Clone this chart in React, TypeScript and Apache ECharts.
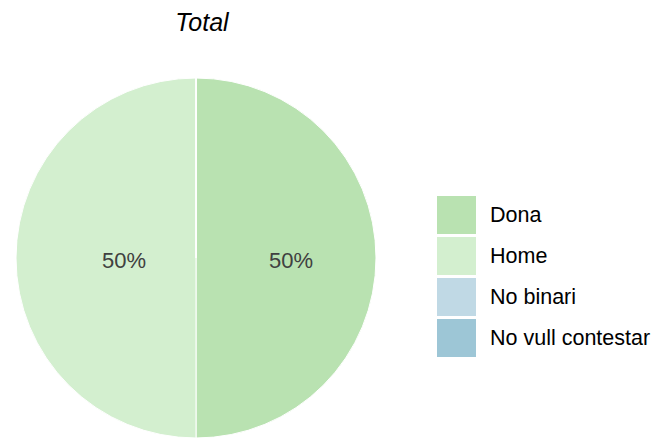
import React, { useEffect, useRef } from "react";
import * as echarts from "echarts";

const categories = ["Dona", "Home", "No binari", "No vull contestar"];
const values = [50, 50, 0, 0];
const colors = ["#b9e2b1", "#d3efcf", "#c0d9e5", "#9dc6d6"];
const title = "Total";

export default function App() {
  const ref = useRef<HTMLDivElement>(null);
  useEffect(() => {
    if (!ref.current) return;
    const chart = echarts.init(ref.current, undefined, { renderer: "svg" });
    const font = "Liberation Sans, Arial, sans-serif";
    chart.setOption({
      animation: false,
      title: {
        text: title,
        left: 197,
        top: 4,
        textAlign: "center",
        textStyle: {
          fontFamily: font,
          fontStyle: "italic",
          fontWeight: "normal",
          fontSize: 25,
          color: "#000",
        },
      },
      legend: {
        orient: "vertical",
        left: 432,
        top: 191,
        itemWidth: 39,
        itemHeight: 38,
        itemGap: 3,
        icon: "rect",
        data: categories,
        itemStyle: { borderWidth: 0 },
        textStyle: {
          fontFamily: font,
          fontSize: 21.5,
          color: "#000",
          padding: [0, 0, 0, 9],
        },
      },
      series: [
        {
          type: "pie",
          center: [196, 258],
          radius: [0, 180],
          startAngle: 90,
          clockwise: true,
          avoidLabelOverlap: false,
          itemStyle: { borderColor: "#fff", borderWidth: 1 },
          label: {
            show: true,
            position: "inner",
            fontFamily: font,
            fontSize: 22,
            color: "#404040",
            formatter: (p: any) => (p.value > 0 ? Math.round(p.percent) + "%" : ""),
          },
          labelLine: { show: false },
          emphasis: { disabled: true },
          data: categories.map((name, i) => ({
            name,
            value: values[i],
            itemStyle: { color: colors[i] },
            label: name === "Home" ? { offset: [21, 2] } : { offset: [2, 2] },
          })),
        },
      ],
    });
    return () => chart.dispose();
  }, []);
  return <div ref={ref} style={{ width: 655, height: 441, position: "absolute", left: 0, top: 0 }} />;
}
